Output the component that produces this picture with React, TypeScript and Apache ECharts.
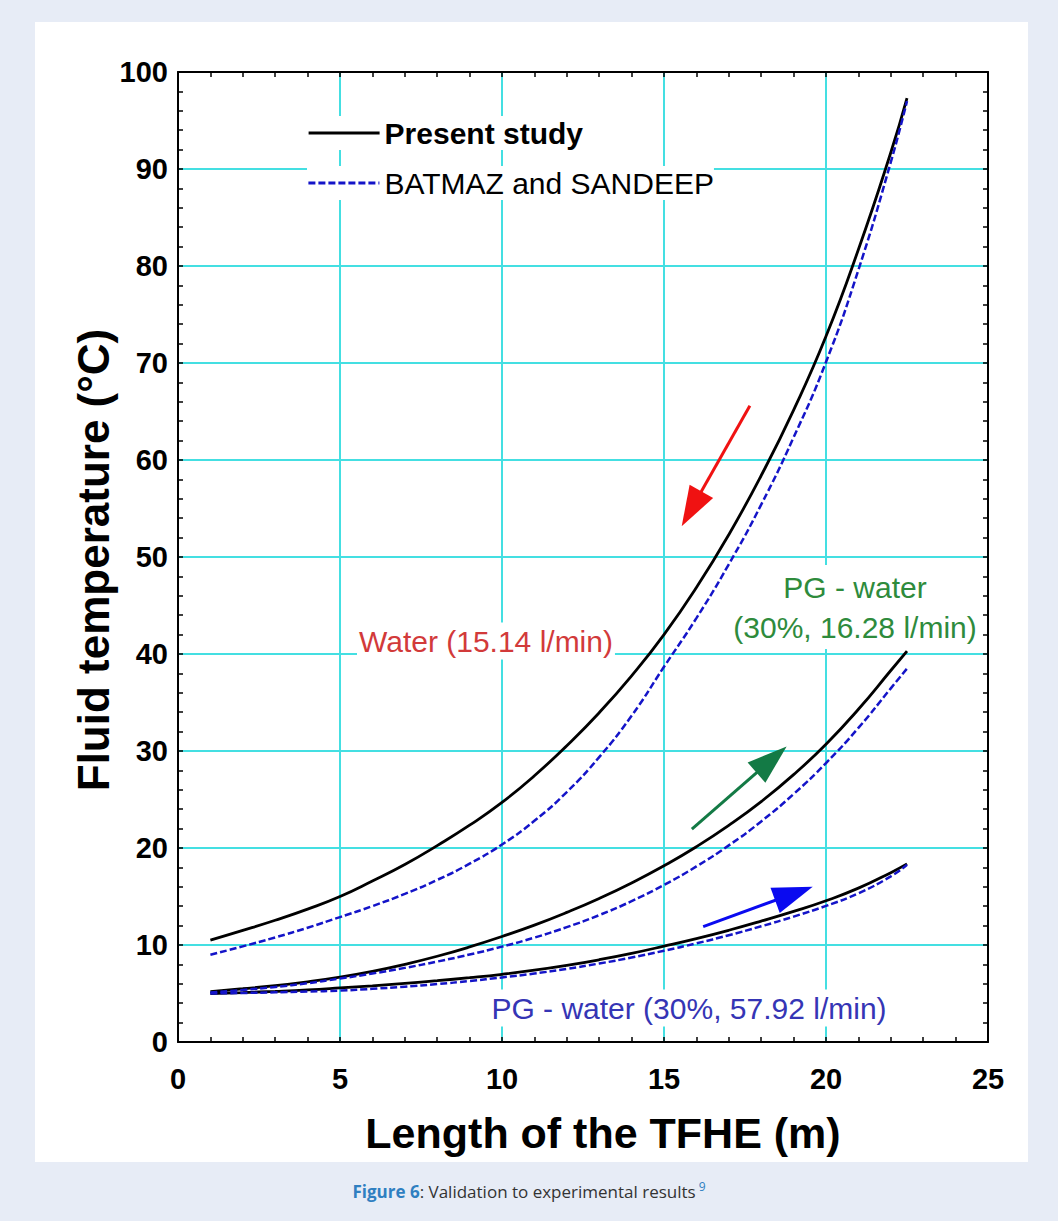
import React, { useEffect, useRef } from "react";
import * as echarts from "echarts";

// ---- data ----
const lengthX = [1, 2, 3, 4, 5, 6, 7, 8, 9, 10, 11, 12, 13, 14, 15, 16, 17, 18, 19, 20, 21, 22, 22.5];

const waterPresent = [10.5, 11.5, 12.55, 13.7, 15.0, 16.6, 18.3, 20.25, 22.35, 24.7, 27.45, 30.55, 33.95, 37.75, 42.0, 46.85, 52.3, 58.4, 65.15, 72.75, 81.7, 91.7, 97.3];
const waterBatmaz = [9.0, 9.86, 10.78, 11.78, 12.88, 14.01, 15.27, 16.71, 18.38, 20.36, 22.8, 25.77, 29.37, 33.63, 38.68, 43.7, 49.25, 55.4, 62.33, 70.1, 79.6, 90.7, 97.0];

const pg1628Present = [5.2, 5.49, 5.81, 6.21, 6.69, 7.29, 8.01, 8.84, 9.8, 10.88, 12.05, 13.36, 14.8, 16.4, 18.17, 20.13, 22.33, 24.78, 27.56, 30.7, 34.3, 38.3, 40.3];
const pg1628Batmaz = [5.1, 5.36, 5.68, 6.06, 6.54, 7.06, 7.64, 8.29, 9.02, 9.83, 10.76, 11.84, 13.08, 14.52, 16.19, 18.1, 20.27, 22.74, 25.56, 28.76, 32.38, 36.46, 38.5];

const pg5792Present = [5.0, 5.1, 5.22, 5.37, 5.57, 5.79, 6.04, 6.32, 6.63, 6.98, 7.4, 7.9, 8.48, 9.14, 9.88, 10.66, 11.52, 12.46, 13.46, 14.56, 15.86, 17.46, 18.36];
const pg5792Batmaz = [5.0, 5.05, 5.12, 5.2, 5.3, 5.48, 5.7, 5.97, 6.29, 6.66, 7.06, 7.54, 8.09, 8.71, 9.41, 10.17, 11.01, 11.93, 12.93, 14.03, 15.33, 17.08, 18.28];

// arrows (data coordinates: tail -> head)
const arrowWater = [[17.65, 65.6], [15.85, 54.97]];
const arrowPg1628 = [[15.86, 21.95], [18.32, 29.12]];
const arrowPg5792 = [[16.21, 11.9], [19.01, 15.31]];

const seriesPresent = "Present study";
const seriesBatmaz = "BATMAZ and SANDEEP";
const labelWater = "Water (15.14 l/min)";
const labelPg1628 = "PG - water\n(30%, 16.28 l/min)";
const labelPg5792 = "PG - water (30%, 57.92 l/min)";
const xName = "Length of the TFHE (m)";
const yName = "Fluid temperature (°C)";

const FONT = "'Liberation Sans', Arial, sans-serif";
const GRID_COLOR = "#44dfe2";

const pairs = (ys: number[]) => lengthX.map((x, i) => [x, ys[i]]);

const arrowMark = (pts: number[][], color: string) => ({
  silent: true,
  symbol: ["none", "triangle"],
  symbolSize: [27, 40],
  label: { show: false },
  lineStyle: { color, width: 3, type: "solid" },
  itemStyle: { color },
  emphasis: { disabled: true },
  data: [[{ coord: pts[0] }, { coord: pts[1] }]],
});

const presentLine = (data: number[][], arrow?: any) => ({
  name: seriesPresent,
  type: "line",
  data,
  symbol: "none",
  smooth: true,
  color: "#000",
  lineStyle: { color: "#000", width: 2.8, type: "solid" },
  z: 3,
  markLine: arrow,
});

const batmazLine = (data: number[][]) => ({
  name: seriesBatmaz,
  type: "line",
  data,
  symbol: "none",
  smooth: true,
  color: "#1414c8",
  lineStyle: { color: "#1414c8", width: 2.5, type: [7, 3] },
  z: 4,
});

const axisCommon = {
  axisLine: { show: true, onZero: false, lineStyle: { color: "#000", width: 2 } },
  axisTick: { show: true, inside: true, length: 5, lineStyle: { color: "#000", width: 1.5 } },
  minorTick: { show: true, splitNumber: 5, length: 5, lineStyle: { color: "#000", width: 1.5 } },
};

const legendCommon = {
  left: 307,
  orient: "vertical",
  padding: 0,
  itemWidth: 71,
  itemHeight: 20,
  selectedMode: false,
  backgroundColor: "#fff",
  itemStyle: { opacity: 0, borderWidth: 0 },
  textStyle: { fontSize: 30, color: "#000", fontFamily: FONT, lineHeight: 34 },
};

export default function App() {
  const ref = useRef<HTMLDivElement>(null);
  useEffect(() => {
    document.body.style.margin = "0";
    const chart = echarts.init(ref.current!, null, { renderer: "svg" });
    const option: any = {
      animation: false,
      backgroundColor: "transparent",
      grid: { left: 178, top: 72, width: 810, height: 970, containLabel: false },
      xAxis: [
        {
          type: "value",
          min: 0,
          max: 25,
          interval: 5,
          position: "bottom",
          ...axisCommon,
          splitLine: { show: true, lineStyle: { color: GRID_COLOR, width: 2 } },
          axisLabel: { margin: 22, fontSize: 29, fontWeight: "bold", color: "#000", fontFamily: FONT },
        },
        {
          type: "value",
          min: 0,
          max: 25,
          interval: 5,
          position: "top",
          ...axisCommon,
          splitLine: { show: false },
          axisLabel: { show: false },
        },
      ],
      yAxis: [
        {
          type: "value",
          min: 0,
          max: 100,
          interval: 10,
          position: "left",
          ...axisCommon,
          splitLine: { show: true, lineStyle: { color: GRID_COLOR, width: 2 } },
          axisLabel: { margin: 10, fontSize: 29, fontWeight: "bold", color: "#000", fontFamily: FONT },
        },
        {
          type: "value",
          min: 0,
          max: 100,
          interval: 10,
          position: "right",
          ...axisCommon,
          splitLine: { show: false },
          axisLabel: { show: false },
        },
      ],
      legend: [
        {
          ...legendCommon,
          top: 116,
          lineStyle: { width: 3.2 },
          data: [{ name: seriesPresent, textStyle: { fontWeight: "bold" } }],
        },
        {
          ...legendCommon,
          top: 166,
          lineStyle: { width: 2.8 },
          data: [seriesBatmaz],
        },
      ],
      series: [
        presentLine(pairs(waterPresent), arrowMark(arrowWater, "#f01212")),
        presentLine(pairs(pg1628Present), arrowMark(arrowPg1628, "#137a45")),
        presentLine(pairs(pg5792Present), arrowMark(arrowPg5792, "#0a0af0")),
        batmazLine(pairs(waterBatmaz)),
        batmazLine(pairs(pg1628Batmaz)),
        batmazLine(pairs(pg5792Batmaz)),
      ],
      graphic: [
        {
          type: "text",
          z: 1,
          x: 357,
          y: 641,
          style: {
            text: labelWater,
            fill: "#d23a3a",
            font: `30px ${FONT}`,
            align: "left",
            verticalAlign: "middle",
            backgroundColor: "#fff",
            padding: [3, 2, 4, 2],
          },
        },
        {
          type: "text",
          z: 1,
          x: 855,
          y: 607,
          style: {
            text: labelPg1628,
            fill: "#2e8b3c",
            font: `30px ${FONT}`,
            lineHeight: 40,
            align: "center",
            verticalAlign: "middle",
            backgroundColor: "#fff",
            padding: [2, 2, 2, 2],
          },
        },
        {
          type: "text",
          z: 1,
          x: 689,
          y: 1008,
          style: {
            text: labelPg5792,
            fill: "#3535b5",
            font: `30px ${FONT}`,
            align: "center",
            verticalAlign: "middle",
            backgroundColor: "#fff",
            padding: [3, 2, 4, 2],
          },
        },
        {
          type: "text",
          x: 603,
          y: 1133,
          style: {
            text: xName,
            fill: "#000",
            font: `bold 43px ${FONT}`,
            align: "center",
            verticalAlign: "middle",
          },
        },
        {
          type: "text",
          x: 93,
          y: 560,
          rotation: Math.PI / 2,
          style: {
            text: yName,
            fill: "#000",
            font: `bold 44px ${FONT}`,
            align: "center",
            verticalAlign: "middle",
          },
        },
        {
          type: "text",
          x: 529,
          y: 1191,
          style: {
            text: "{a|Figure 6}{b|: Validation to experimental results}{c|9}",
            align: "center",
            verticalAlign: "middle",
            rich: {
              a: { fontFamily: "'Open Sans', sans-serif", fontSize: 17, fontWeight: "bold", fill: "#2f7fc1", color: "#2f7fc1" },
              b: { fontFamily: "'Open Sans', sans-serif", fontSize: 17, fill: "#333", color: "#333" },
              c: { fontFamily: "'Open Sans', sans-serif", fontSize: 12, fill: "#2f7fc1", color: "#2f7fc1", verticalAlign: "top", padding: [0, 0, 10, 3] },
            },
          },
        },
      ],
    };
    chart.setOption(option);
    return () => chart.dispose();
  }, []);

  return (
    <div style={{ position: "absolute", left: 0, top: 0, width: 1058, height: 1221, background: "#e7ecf6", overflow: "hidden" }}>
      <div style={{ position: "absolute", left: 35, top: 22, width: 993, height: 1140, background: "#fff" }} />
      <div ref={ref} style={{ position: "absolute", left: 0, top: 0, width: 1058, height: 1221 }} />
    </div>
  );
}
